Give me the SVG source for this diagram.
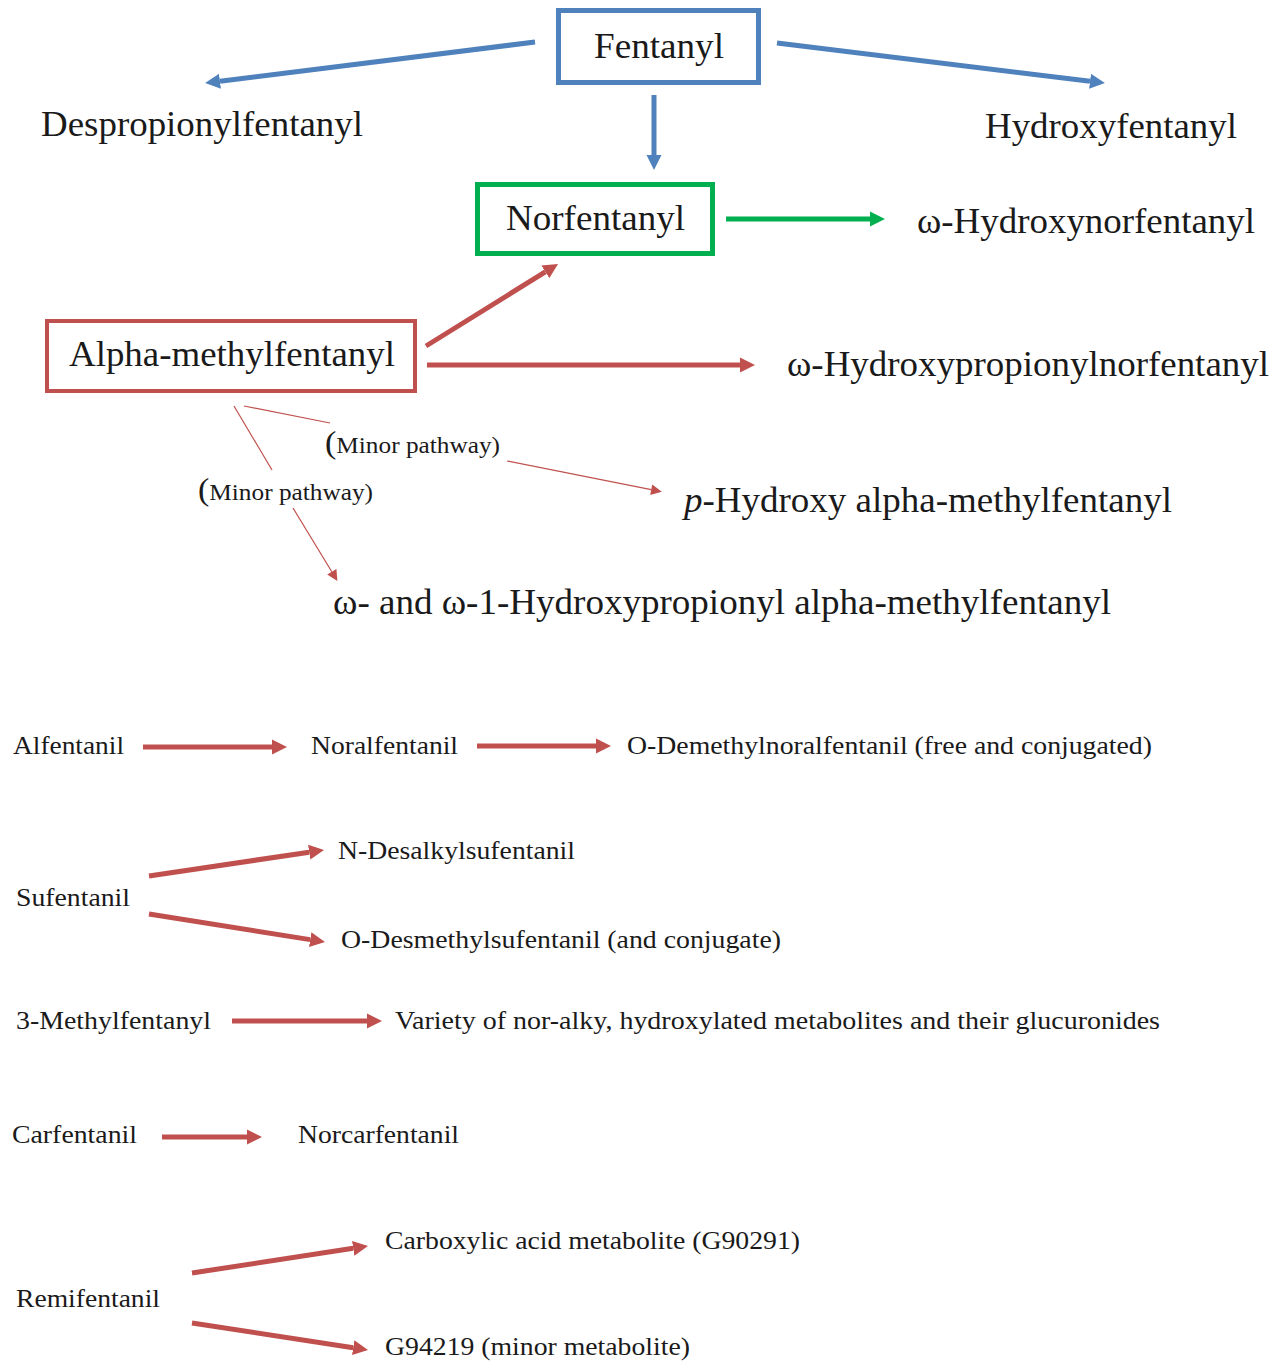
<svg xmlns="http://www.w3.org/2000/svg" width="1281" height="1362" viewBox="0 0 1281 1362">
<style>
text{font-family:"Liberation Serif","Times New Roman",Times,serif;fill:#1a1a1a}
.big{font-size:35px}
.sm{font-size:25px}
.mp{font-size:23px}
.blue{stroke:#4F81BD;stroke-width:5;fill:none}
.green{stroke:#00B050;stroke-width:5;fill:none}
.red{stroke:#C0504D;stroke-width:5;fill:none}
.thin{stroke:#C0504D;stroke-width:1.2;fill:none}
</style>
<defs>
<marker id="hb" viewBox="0 0 10 10" refX="0" refY="5" markerWidth="3" markerHeight="3.2" orient="auto"><path d="M0,0 L10,5 L0,10 z" fill="#4F81BD"/></marker>
<marker id="hg" viewBox="0 0 10 10" refX="0" refY="5" markerWidth="3" markerHeight="3.2" orient="auto"><path d="M0,0 L10,5 L0,10 z" fill="#00B050"/></marker>
<marker id="hr" viewBox="0 0 10 10" refX="0" refY="5" markerWidth="3" markerHeight="3.2" orient="auto"><path d="M0,0 L10,5 L0,10 z" fill="#C0504D"/></marker>
<marker id="ht" viewBox="0 0 10 10" refX="0" refY="5" markerWidth="10" markerHeight="9" orient="auto"><path d="M0,0 L10,5 L0,10 z" fill="#C0504D"/></marker>
</defs>

<g id="connectors">
<path class="blue" d="M535,42 L220,81.2" marker-end="url(#hb)"/>
<path class="blue" d="M777,43 L1090,81.2" marker-end="url(#hb)"/>
<path class="blue" d="M654,95 L654,155" marker-end="url(#hb)"/>
<path class="green" d="M726,219 L870,219" marker-end="url(#hg)"/>
<path class="red" d="M426,346 L545.3,271.9" marker-end="url(#hr)"/>
<path class="red" d="M427,365 L740,365" marker-end="url(#hr)"/>
<path class="thin" d="M244,406 L330,423"/>
<path class="thin" d="M507,461 L651.2,489.7" marker-end="url(#ht)"/>
<path class="thin" d="M234,406 L272,470"/>
<path class="thin" d="M293,508 L331.8,571.8" marker-end="url(#ht)"/>
<path class="red" d="M143,747 L272,747" marker-end="url(#hr)"/>
<path class="red" d="M477,746 L596,746" marker-end="url(#hr)"/>
<path class="red" d="M149,876 L309.2,852.2" marker-end="url(#hr)"/>
<path class="red" d="M149,914 L310.2,939.6" marker-end="url(#hr)"/>
<path class="red" d="M232,1021 L367,1021" marker-end="url(#hr)"/>
<path class="red" d="M162,1137 L247,1137" marker-end="url(#hr)"/>
<path class="red" d="M192,1273 L353.2,1248.3" marker-end="url(#hr)"/>
<path class="red" d="M192,1323 L353.2,1347.7" marker-end="url(#hr)"/>
</g>

<g id="fentanyl">
<rect x="558.5" y="10.5" width="200" height="72" fill="none" stroke="#4F81BD" stroke-width="5"/>
<text class="big" x="594" y="58" textLength="130" lengthAdjust="spacingAndGlyphs">Fentanyl</text>
</g>
<g id="despropionylfentanyl"><text class="big" x="41" y="136" textLength="322" lengthAdjust="spacingAndGlyphs">Despropionylfentanyl</text></g>
<g id="hydroxyfentanyl"><text class="big" x="985" y="138" textLength="252" lengthAdjust="spacingAndGlyphs">Hydroxyfentanyl</text></g>
<g id="norfentanyl">
<rect x="477.5" y="184.5" width="235" height="69" fill="none" stroke="#00B050" stroke-width="5"/>
<text class="big" x="506" y="230" textLength="179" lengthAdjust="spacingAndGlyphs">Norfentanyl</text>
</g>
<g id="omega-hydroxynorfentanyl"><text class="big" x="917" y="233" textLength="338" lengthAdjust="spacingAndGlyphs">ω-Hydroxynorfentanyl</text></g>
<g id="alpha-methylfentanyl">
<rect x="47" y="321" width="368" height="70" fill="none" stroke="#C0504D" stroke-width="4"/>
<text class="big" x="69" y="366" textLength="326" lengthAdjust="spacingAndGlyphs">Alpha-methylfentanyl</text>
</g>
<g id="omega-hydroxypropionylnorfentanyl"><text class="big" x="787" y="376" textLength="482" lengthAdjust="spacingAndGlyphs">ω-Hydroxypropionylnorfentanyl</text></g>
<g id="minor-pathway-1"><text class="mp" x="325" y="453" textLength="175" lengthAdjust="spacingAndGlyphs"><tspan font-size="31">(</tspan>Minor pathway)</text></g>
<g id="minor-pathway-2"><text class="mp" x="198" y="500" textLength="175" lengthAdjust="spacingAndGlyphs"><tspan font-size="31">(</tspan>Minor pathway)</text></g>
<g id="p-hydroxy"><text class="big" x="684" y="512" textLength="488" lengthAdjust="spacingAndGlyphs"><tspan font-style="italic">p</tspan>-Hydroxy alpha-methylfentanyl</text></g>
<g id="omega-hydroxypropionyl-alpha"><text class="big" x="333" y="614" textLength="778" lengthAdjust="spacingAndGlyphs">ω- and ω-1-Hydroxypropionyl alpha-methylfentanyl</text></g>

<g id="alfentanil"><text class="sm" x="13" y="754" textLength="111" lengthAdjust="spacingAndGlyphs">Alfentanil</text></g>
<g id="noralfentanil"><text class="sm" x="311" y="754" textLength="147" lengthAdjust="spacingAndGlyphs">Noralfentanil</text></g>
<g id="o-demethylnoralfentanil"><text class="sm" x="627" y="754" textLength="525" lengthAdjust="spacingAndGlyphs">O-Demethylnoralfentanil (free and conjugated)</text></g>
<g id="n-desalkylsufentanil"><text class="sm" x="338" y="859" textLength="237" lengthAdjust="spacingAndGlyphs">N-Desalkylsufentanil</text></g>
<g id="sufentanil"><text class="sm" x="16" y="906" textLength="114" lengthAdjust="spacingAndGlyphs">Sufentanil</text></g>
<g id="o-desmethylsufentanil"><text class="sm" x="341" y="948" textLength="440" lengthAdjust="spacingAndGlyphs">O-Desmethylsufentanil (and conjugate)</text></g>
<g id="methylfentanyl"><text class="sm" x="16" y="1029" textLength="195" lengthAdjust="spacingAndGlyphs">3-Methylfentanyl</text></g>
<g id="variety"><text class="sm" x="395" y="1029" textLength="765" lengthAdjust="spacingAndGlyphs">Variety of nor-alky, hydroxylated metabolites and their glucuronides</text></g>
<g id="carfentanil"><text class="sm" x="12" y="1143" textLength="125" lengthAdjust="spacingAndGlyphs">Carfentanil</text></g>
<g id="norcarfentanil"><text class="sm" x="298" y="1143" textLength="161" lengthAdjust="spacingAndGlyphs">Norcarfentanil</text></g>
<g id="carboxylic"><text class="sm" x="385" y="1249" textLength="415" lengthAdjust="spacingAndGlyphs">Carboxylic acid metabolite (G90291)</text></g>
<g id="remifentanil"><text class="sm" x="16" y="1307" textLength="144" lengthAdjust="spacingAndGlyphs">Remifentanil</text></g>
<g id="g94219"><text class="sm" x="385" y="1355" textLength="305" lengthAdjust="spacingAndGlyphs">G94219 (minor metabolite)</text></g>
</svg>
